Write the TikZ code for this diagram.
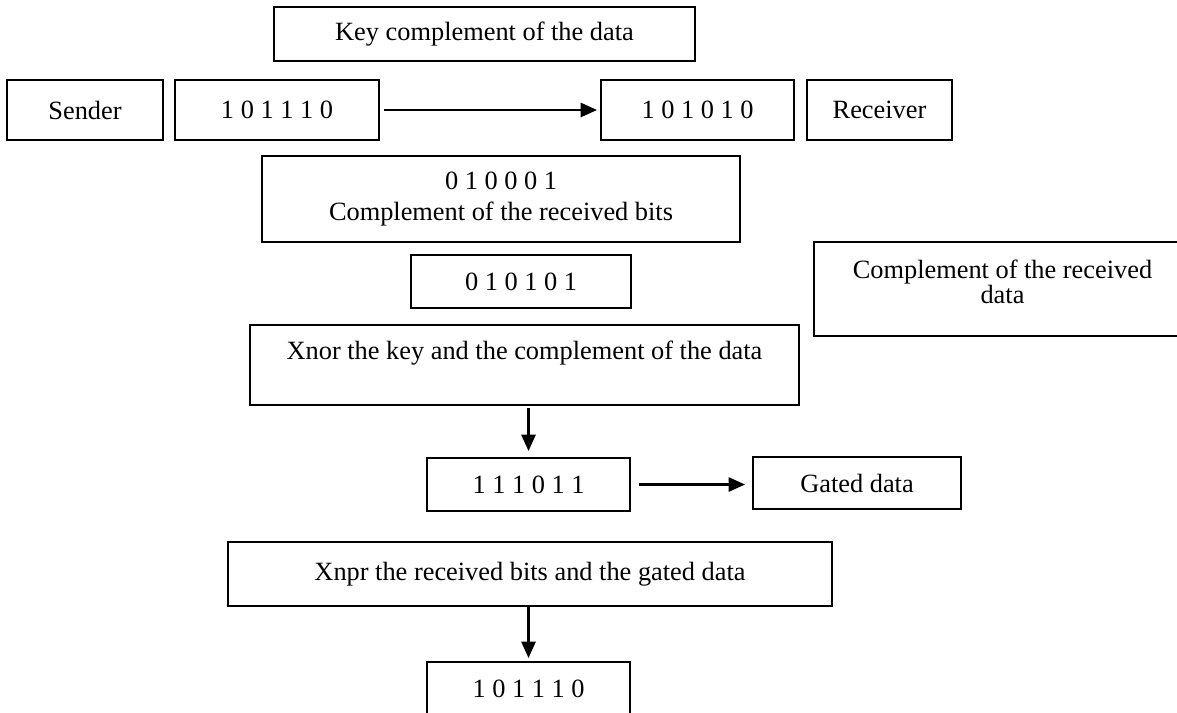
\documentclass[tikz,border=0pt]{standalone}
\usepackage{fontspec}
\setmainfont{Liberation Serif}
\usetikzlibrary{arrows.meta}

\newlength{\pxl}
\setlength{\pxl}{0.4553pt}

\tikzset{
  box/.style={draw, line width=0.9pt, inner sep=0pt, align=center,
    font=\fontsize{12}{14.4}\selectfont},
  flow/.style={line width=1pt, -{Triangle[length=7.5pt,width=6.5pt]}},
}

\begin{document}
\begin{tikzpicture}[x=0.4553pt, y=-0.4553pt]
\useasboundingbox (0,0) rectangle (1177,712);

\node[box, minimum width=421*\pxl, minimum height=54*\pxl] (key) at (484.5,34) {Key complement of the data};

\node[box, minimum width=156*\pxl, minimum height=60*\pxl] (sender) at (85,110) {Sender};
\node[box, minimum width=204*\pxl, minimum height=60*\pxl] (sent) at (277,110) {1 0 1 1 1 0};
\node[box, minimum width=193*\pxl, minimum height=60*\pxl] (recv) at (697.5,110) {1 0 1 0 1 0};
\node[box, minimum width=145*\pxl, minimum height=60*\pxl] (receiver) at (879.5,110) {Receiver};

\node[box, minimum width=478*\pxl, minimum height=86*\pxl] (cbits) at (501,199) {0 1 0 0 0 1\\Complement of the received bits};
\node[box, minimum width=220*\pxl, minimum height=53*\pxl] (keyd) at (521,281.5) {0 1 0 1 0 1};
\node[box, minimum width=377*\pxl, minimum height=94*\pxl, text height=20pt, text depth=7pt] (cdata) at (1002.5,289) {Complement of the received\\[-3pt]data};

\node[box, minimum width=549*\pxl, minimum height=80*\pxl, text height=8pt, text depth=13pt] (xnor) at (524.5,365) {Xnor the key and the complement of the data};
\node[box, minimum width=203*\pxl, minimum height=53*\pxl] (gate) at (528.5,484.5) {1 1 1 0 1 1};
\node[box, minimum width=208*\pxl, minimum height=52*\pxl] (gated) at (857,483) {Gated data};

\node[box, minimum width=604*\pxl, minimum height=64*\pxl] (xnpr) at (530,574) {Xnpr the received bits and the gated data};
\node[box, minimum width=203*\pxl, minimum height=53*\pxl] (result) at (528.5,688.5) {1 0 1 1 1 0};

\draw[flow, shorten <=4*\pxl, shorten >=3*\pxl] (sent) -- (recv);
\draw[flow, shorten <=2*\pxl, shorten >=6*\pxl] (xnor.south -| gate) -- (gate);
\draw[flow, shorten <=8*\pxl, shorten >=7*\pxl] (gate.east) -- (gated.west |- gate.east);
\draw[flow, shorten >=3*\pxl] (xnpr.south -| result) -- (result);

\end{tikzpicture}
\end{document}
